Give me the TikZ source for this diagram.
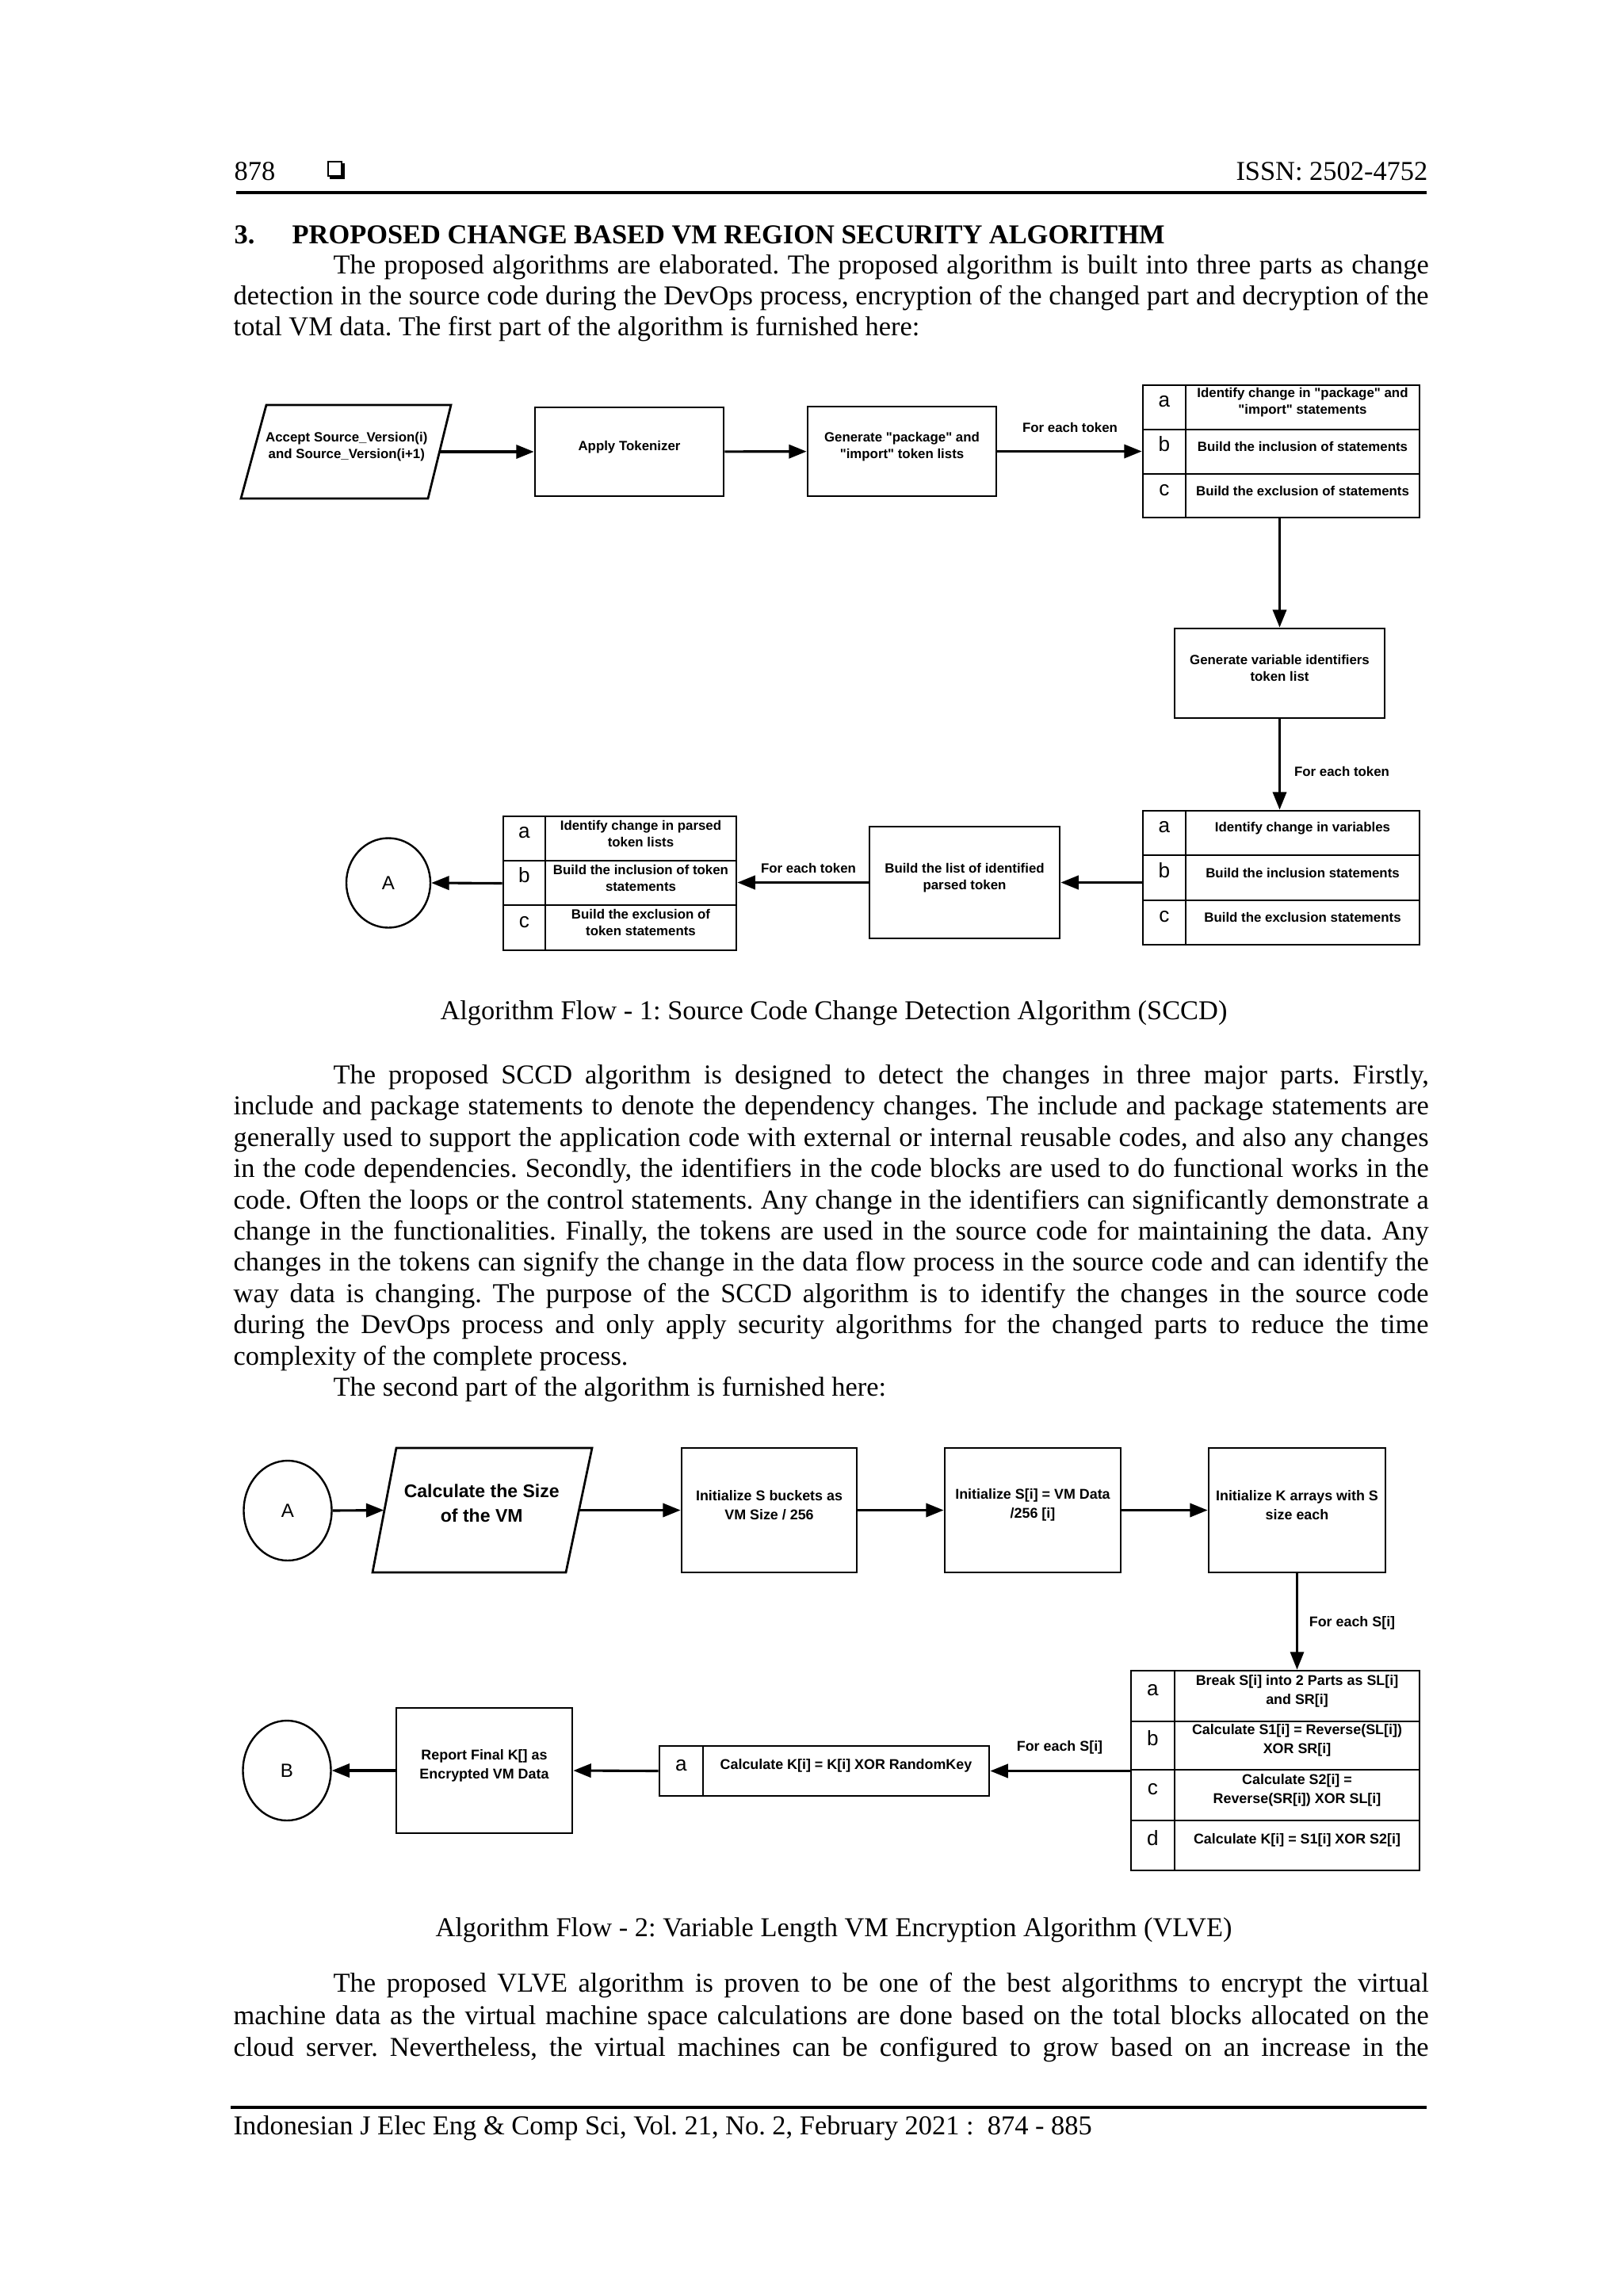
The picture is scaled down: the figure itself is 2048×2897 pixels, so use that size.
\documentclass[tikz,border=0pt]{standalone}
\usepackage{fontspec}
\setmainfont{Liberation Serif}
\newfontfamily\dsans{Liberation Sans}
\usetikzlibrary{arrows.meta,shapes.geometric,fit}
\newcommand\pxl[1]{#1*0.290664pt}
% table row: name, x1, y1, xdiv, y2, x2, letter, text, text style
\newcommand\trow[9]{%
  \node[cellL,fit={(#2,#3)(#4,#5)}] (#1l) {#7};
  \node[#9,fit={(#4,#3)(#6,#5)}] (#1t) {#8};}
\newcommand\fullline[3]{\node[bodytext] (#1) at (294,#2) {\makebox[438.3pt][s]{#3}};}
\newcommand\indline[3]{\node[bodytext] (#1) at (420,#2) {\makebox[401.7pt][s]{#3}};}
\newcommand\plainline[3]{\node[bodytext] (#1) at (294,#2) {#3};}
\newcommand\plainind[3]{\node[bodytext] (#1) at (420,#2) {#3};}
\frenchspacing
\begin{document}
\begin{tikzpicture}[x=0.290664pt,y=-0.290664pt,
  bodytext/.style={anchor=base west,inner sep=0pt,font=\fontsize{10}{12}\selectfont},
  capt/.style={anchor=base,inner sep=0pt,font=\fontsize{10}{12}\selectfont},
  fa/.style={font=\dsans\bfseries\fontsize{4.9}{6.1}\selectfont,align=center},
  fb/.style={font=\dsans\bfseries\fontsize{5.2}{7}\selectfont,align=center},
  boxa/.style={draw,line width=0.8pt,inner sep=0pt,fa},
  boxb/.style={draw,line width=0.8pt,inner sep=0pt,fb},
  cellL/.style={draw,line width=0.8pt,inner sep=0pt,font=\dsans\fontsize{7.6}{8}\selectfont},
  tab/.style={draw,line width=0.8pt,inner sep=0pt},
  circ/.style={draw,ellipse,line width=0.7pt,inner sep=0pt,font=\dsans\fontsize{7}{8}\selectfont},
  parbody/.style={inner sep=0pt,align=center},
  paraline/.style={line width=0.8pt,line join=miter},
  arr/.style={-{Triangle[length=6.5pt,width=5pt]},line width=0.9pt},
  varr/.style={-{Triangle[length=6.5pt,width=5pt]},line width=0.7pt},
  lbl/.style={inner sep=0pt}
]
\useasboundingbox (0,0) rectangle (2048,2897);
\fill[white] (0,0) rectangle (2048,2897);

% ---------- header ----------
\node[bodytext] (pg) at (295,227) {878};
\draw[line width=0.6pt] (414,204) rectangle (431,222);
\fill (431,206) rectangle (435,226);
\fill (416,222) rectangle (435,226);
\node[bodytext,anchor=base east] (issn) at (1802,227) {ISSN: 2502-4752};
\draw[line width=1.2pt] (298,243) -- (1800,243);

% ---------- section heading and first paragraph ----------
\node[bodytext,font=\bfseries\fontsize{10}{12}\selectfont] (secn) at (295,307) {3.};
\node[bodytext,font=\bfseries\fontsize{10}{12}\selectfont] (sect) at (368,307) {PROPOSED CHANGE BASED VM REGION SECURITY ALGORITHM};
\indline{pa1}{345}{The proposed algorithms are elaborated. The proposed algorithm is built into three parts as change}
\fullline{pa2}{384}{detection in the source code during the DevOps process, encryption of the changed part and decryption of the}
\plainline{pa3}{423}{total VM data. The first part of the algorithm is furnished here:}

% ---------- Algorithm flow 1 ----------
\draw[paraline] (336,511) -- (569,511) -- (540,629) -- (304,629) -- cycle;
\node[parbody,fa,fit={(320,511)(554.5,629)}] (P1) {Accept Source\_Version(i)\\and Source\_Version(i+1)};
\node[boxa,fit={(675,514)(913,626)}] (B2) {Apply Tokenizer};
\node[boxa,fit={(1019,513)(1257,626)}] (B3) {Generate "package" and\\"import" token lists};
\node[tab,fit={(1442,486)(1791,653)}] (T1) {};
\trow{T1a}{1442}{486}{1496}{542}{1791}{a}{Identify change in "package" and\\"import" statements}{boxa}
\trow{T1b}{1442}{542}{1496}{598}{1791}{b}{Build the inclusion of statements}{boxa}
\trow{T1c}{1442}{598}{1496}{653}{1791}{c}{Build the exclusion of statements}{boxa}
\node[boxa,fit={(1482,793)(1747,906)}] (B4) {Generate variable identifiers\\token list};
\node[tab,fit={(1442,1023)(1791,1192)}] (T2) {};
\trow{T2a}{1442}{1023}{1496}{1079}{1791}{a}{Identify change in variables}{boxa}
\trow{T2b}{1442}{1079}{1496}{1136}{1791}{b}{Build the inclusion statements}{boxa}
\trow{T2c}{1442}{1136}{1496}{1192}{1791}{c}{Build the exclusion statements}{boxa}
\node[boxa,fit={(1097,1043)(1337,1184)}] (B5) {Build the list of identified\\parsed token};
\node[tab,fit={(635,1030)(929,1199)}] (T3) {};
\trow{T3a}{635}{1030}{688}{1086}{929}{a}{Identify change in parsed\\token lists}{boxa}
\trow{T3b}{635}{1086}{688}{1142}{929}{b}{Build the inclusion of token\\statements}{boxa}
\trow{T3c}{635}{1142}{688}{1199}{929}{c}{Build the exclusion of\\token statements}{boxa}
\node[circ,minimum width={\pxl{106}},minimum height={\pxl{113}}] (A1) at (490,1114) {A};

\draw[arr] (P1.east) -- (B2.west);
\draw[arr] (B2) -- (B3);
\draw[arr] (B3.east) -- (B3.east -| T1.west);
\node[lbl,fa] (L1) at (1350,539) {For each token};
\draw[arr] (T1.south -| B4) -- (B4.north);
\draw[arr] (B4.south) -- (B4.south |- T2.north);
\node[lbl,fa] (L2) at (1693,973) {For each token};
\draw[arr] (T2.west |- B5.east) -- (B5.east);
\draw[arr] (B5.west) -- (B5.west -| T3.east);
\node[lbl,fa] (L3) at (1020,1095) {For each token};
\draw[arr] (T3.west) -- (A1.east);

\node[capt] (cap1) at (1052,1286) {Algorithm Flow - 1: Source Code Change Detection Algorithm (SCCD)};

% ---------- second paragraph ----------
\indline{pb1}{1367}{The proposed SCCD algorithm is designed to detect the changes in three major parts. Firstly,}
\fullline{pb2}{1406}{include and package statements to denote the dependency changes. The include and package statements are}
\fullline{pb3}{1446}{generally used to support the application code with external or internal reusable codes, and also any changes}
\fullline{pb4}{1485}{in the code dependencies. Secondly, the identifiers in the code blocks are used to do functional works in the}
\fullline{pb5}{1525}{code. Often the loops or the control statements. Any change in the identifiers can significantly demonstrate a}
\fullline{pb6}{1564}{change in the functionalities. Finally, the tokens are used in the source code for maintaining the data. Any}
\fullline{pb7}{1603}{changes in the tokens can signify the change in the data flow process in the source code and can identify the}
\fullline{pb8}{1643}{way data is changing. The purpose of the SCCD algorithm is to identify the changes in the source code}
\fullline{pb9}{1682}{during the DevOps process and only apply security algorithms for the changed parts to reduce the time}
\plainline{pb10}{1722}{complexity of the complete process.}
\plainind{pb11}{1761}{The second part of the algorithm is furnished here:}

% ---------- Algorithm flow 2 ----------
\node[circ,minimum width={\pxl{111}},minimum height={\pxl{126}}] (A2) at (363,1906) {A};
\draw[paraline] (500,1827) -- (747,1827) -- (714,1984) -- (470,1984) -- cycle;
\node[parbody,font=\dsans\bfseries\fontsize{6.7}{9}\selectfont,fit={(485,1827)(730.5,1984)}] (P2) {Calculate the Size\\of the VM};
\node[boxb,fit={(860,1827)(1081,1984)}] (B6) {Initialize S buckets as\\VM Size / 256};
\node[boxb,fit={(1192,1827)(1414,1984)}] (B7) {Initialize S[i] = VM Data\\/256 [i]};
\node[boxb,fit={(1525,1827)(1748,1984)}] (B8) {Initialize K arrays with S\\size each};
\node[tab,fit={(1427,2108)(1791,2360)}] (T4) {};
\trow{T4a}{1427}{2108}{1482}{2172}{1791}{a}{Break S[i] into 2 Parts as SL[i]\\and SR[i]}{boxb}
\trow{T4b}{1427}{2172}{1482}{2233}{1791}{b}{Calculate S1[i] = Reverse(SL[i])\\XOR SR[i]}{boxb}
\trow{T4c}{1427}{2233}{1482}{2297}{1791}{c}{Calculate S2[i] =\\Reverse(SR[i]) XOR SL[i]}{boxb}
\trow{T4d}{1427}{2297}{1482}{2360}{1791}{d}{Calculate K[i] = S1[i] XOR S2[i]}{boxb}
\node[tab,fit={(832,2203)(1248,2266)}] (T5) {};
\trow{T5a}{832}{2203}{887}{2266}{1248}{a}{Calculate K[i] = K[i] XOR RandomKey}{boxb}
\node[boxb,fit={(500,2155)(722,2313)}] (B9) {Report Final K[] as\\Encrypted VM Data};
\node[circ,minimum width={\pxl{111}},minimum height={\pxl{126}}] (Bc) at (362,2234) {B};

\draw[arr] (A2.east) -- (P2.west);
\draw[arr] (P2.east) -- (B6.west);
\draw[arr] (B6) -- (B7);
\draw[arr] (B7) -- (B8);
\draw[varr] (B8.south) -- (B8.south |- T4.north);
\node[lbl,fb] (L4) at (1706,2048) {For each S[i]};
\draw[arr] (T4.west |- T5.east) -- (T5.east);
\node[lbl,fb] (L5) at (1337,2205) {For each S[i]};
\draw[arr] (T5.west) -- (B9.east);
\draw[arr] (B9.west) -- (Bc.east);

\node[capt] (cap2) at (1052,2443) {Algorithm Flow - 2: Variable Length VM Encryption Algorithm (VLVE)};

% ---------- third paragraph ----------
\indline{pc1}{2513}{The proposed VLVE algorithm is proven to be one of the best algorithms to encrypt the virtual}
\fullline{pc2}{2554}{machine data as the virtual machine space calculations are done based on the total blocks allocated on the}
\fullline{pc3}{2594}{cloud server. Nevertheless, the virtual machines can be configured to grow based on an increase in the}

% ---------- footer ----------
\draw[line width=0.9pt] (291,2659) -- (1800,2659);
\plainline{foot}{2693}{Indonesian J Elec Eng \& Comp Sci, Vol. 21, No. 2, February 2021 :\ \ 874 - 885}
\end{tikzpicture}
\end{document}
